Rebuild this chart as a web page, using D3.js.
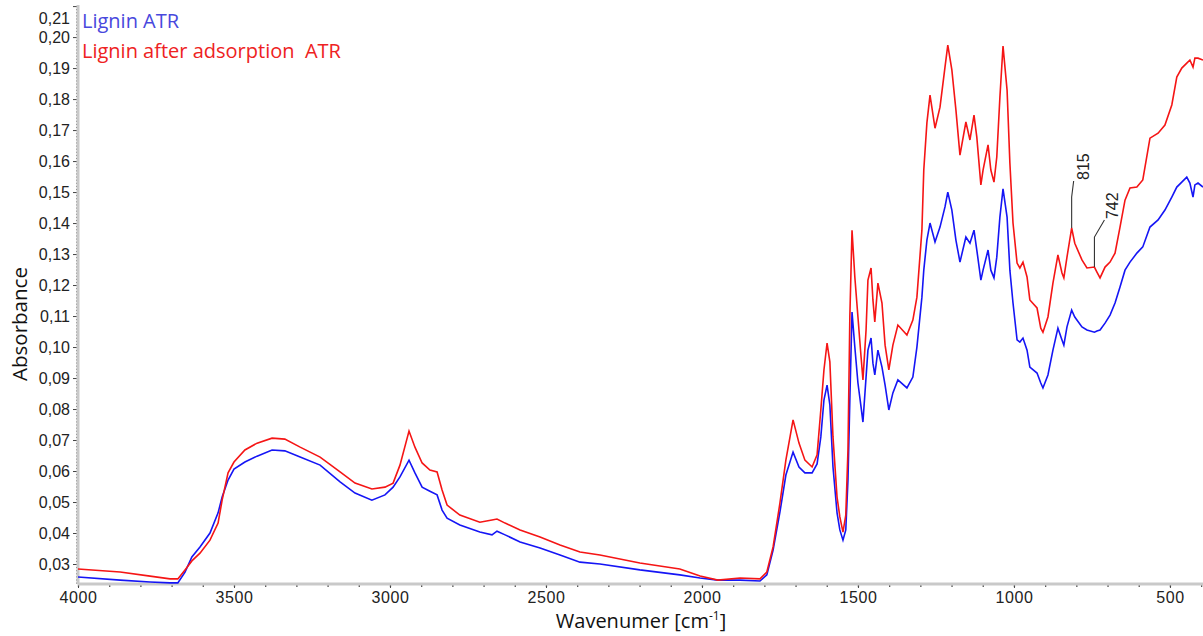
<!DOCTYPE html>
<html>
<head>
<meta charset="utf-8">
<script src="https://cdn.jsdelivr.net/npm/d3@7/dist/d3.min.js"></script>
<style>
  body { margin: 0; background: #fff; }
  svg { display: block; }
</style>
</head>
<body>
<div id="chart"></div>
<script>
// wavenumbers (cm-1) shared by both spectra
const wavenumbers = [4000, 3865, 3769, 3705, 3680, 3657, 3635, 3609, 3577, 3551, 3538, 3519, 3500, 3465, 3426, 3378, 3337, 3288, 3224, 3160, 3112, 3058, 3016, 2990, 2968, 2939, 2920, 2897, 2872, 2849, 2833, 2817, 2776, 2712, 2673, 2657, 2631, 2583, 2519, 2455, 2391, 2327, 2199, 2071, 2006, 1949, 1878, 1814, 1792, 1772, 1750, 1731, 1708, 1689, 1670, 1647, 1631, 1619, 1609, 1599, 1590, 1580, 1567, 1558, 1548, 1539, 1532, 1526, 1519, 1510, 1500, 1490, 1484, 1474, 1468, 1458, 1452, 1446, 1436, 1423, 1413, 1401, 1388, 1372, 1343, 1324, 1311, 1295, 1289, 1279, 1269, 1253, 1237, 1221, 1212, 1199, 1186, 1173, 1154, 1141, 1128, 1119, 1106, 1099, 1083, 1074, 1064, 1055, 1045, 1035, 1022, 1013, 1003, 990, 981, 971, 958, 949, 926, 914, 907, 891, 875, 859, 846, 840, 830, 815, 805, 782, 766, 742, 734, 724, 708, 692, 676, 660, 644, 628, 606, 587, 564, 538, 516, 494, 478, 462, 446, 436, 426, 420, 410, 394];

// "Lignin ATR"
const ligninAtr = [0.0258, 0.0248, 0.0242, 0.0239, 0.0239, 0.0274, 0.0323, 0.0355, 0.0400, 0.0465, 0.0516, 0.0571, 0.0606, 0.0629, 0.0648, 0.0668, 0.0665, 0.0645, 0.0619, 0.0565, 0.0529, 0.0506, 0.0523, 0.0548, 0.0581, 0.0635, 0.0594, 0.0548, 0.0535, 0.0523, 0.0474, 0.0448, 0.0426, 0.0403, 0.0394, 0.0406, 0.0394, 0.0371, 0.0352, 0.0329, 0.0306, 0.0300, 0.0281, 0.0265, 0.0255, 0.0248, 0.0248, 0.0245, 0.0265, 0.0345, 0.0468, 0.0587, 0.0661, 0.0613, 0.0594, 0.0594, 0.0623, 0.0710, 0.0829, 0.0877, 0.0813, 0.0613, 0.0465, 0.0410, 0.0377, 0.0410, 0.0571, 0.0829, 0.1113, 0.1000, 0.0884, 0.0806, 0.0758, 0.0903, 0.0990, 0.1029, 0.0948, 0.0910, 0.0990, 0.0935, 0.0877, 0.0797, 0.0852, 0.0894, 0.0868, 0.0903, 0.1000, 0.1161, 0.1248, 0.1345, 0.1400, 0.1339, 0.1387, 0.1452, 0.1500, 0.1442, 0.1345, 0.1274, 0.1355, 0.1335, 0.1377, 0.1313, 0.1216, 0.1248, 0.1313, 0.1248, 0.1223, 0.1290, 0.1419, 0.1510, 0.1419, 0.1248, 0.1142, 0.1023, 0.1016, 0.1029, 0.0990, 0.0935, 0.0916, 0.0884, 0.0868, 0.0910, 0.0990, 0.1061, 0.1023, 0.1006, 0.1065, 0.1119, 0.1097, 0.1065, 0.1055, 0.1048, 0.1052, 0.1055, 0.1077, 0.1103, 0.1142, 0.1194, 0.1248, 0.1274, 0.1303, 0.1323, 0.1387, 0.1410, 0.1442, 0.1484, 0.1516, 0.1532, 0.1548, 0.1529, 0.1484, 0.1523, 0.1529, 0.1516];

// "Lignin after adsorption ATR"
const ligninAfter = [0.0284, 0.0274, 0.0261, 0.0252, 0.0252, 0.0281, 0.0310, 0.0335, 0.0377, 0.0432, 0.0506, 0.0594, 0.0629, 0.0668, 0.0690, 0.0706, 0.0703, 0.0677, 0.0645, 0.0597, 0.0561, 0.0542, 0.0548, 0.0561, 0.0619, 0.0729, 0.0677, 0.0626, 0.0603, 0.0597, 0.0539, 0.0490, 0.0458, 0.0435, 0.0442, 0.0445, 0.0432, 0.0410, 0.0387, 0.0361, 0.0339, 0.0329, 0.0303, 0.0284, 0.0261, 0.0248, 0.0255, 0.0252, 0.0274, 0.0355, 0.0497, 0.0635, 0.0765, 0.0690, 0.0635, 0.0613, 0.0652, 0.0797, 0.0926, 0.1013, 0.0952, 0.0710, 0.0516, 0.0452, 0.0403, 0.0458, 0.0668, 0.1097, 0.1377, 0.1226, 0.1097, 0.0968, 0.0894, 0.1055, 0.1216, 0.1255, 0.1152, 0.1081, 0.1206, 0.1142, 0.1006, 0.0926, 0.1006, 0.1071, 0.1039, 0.1087, 0.1161, 0.1377, 0.1571, 0.1723, 0.1813, 0.1706, 0.1774, 0.1903, 0.1974, 0.1894, 0.1765, 0.1619, 0.1726, 0.1668, 0.1748, 0.1677, 0.1523, 0.1571, 0.1652, 0.1571, 0.1532, 0.1613, 0.1806, 0.1971, 0.1829, 0.1594, 0.1400, 0.1271, 0.1255, 0.1274, 0.1226, 0.1152, 0.1126, 0.1061, 0.1048, 0.1097, 0.1206, 0.1297, 0.1239, 0.1223, 0.1290, 0.1384, 0.1335, 0.1281, 0.1255, 0.1258, 0.1242, 0.1223, 0.1258, 0.1274, 0.1303, 0.1387, 0.1474, 0.1513, 0.1516, 0.1539, 0.1674, 0.1690, 0.1716, 0.1781, 0.1871, 0.1900, 0.1916, 0.1926, 0.1903, 0.1932, 0.1932, 0.1926];

const seriesNames = ["Lignin ATR", "Lignin after adsorption  ATR"];
const xTicks = [4000, 3500, 3000, 2500, 2000, 1500, 1000, 500];
const yTicks = [0.03, 0.04, 0.05, 0.06, 0.07, 0.08, 0.09, 0.10, 0.11, 0.12, 0.13, 0.14, 0.15, 0.16, 0.17, 0.18, 0.19, 0.20, 0.21];
const peakLabels = [815, 742];

const width = 1203, height = 636;
const margin = { top: 5, left: 78, bottom: 52, right: 0 };

const svg = d3.select("#chart").append("svg")
    .attr("width", width)
    .attr("height", height);

const x = d3.scaleLinear()
    .domain([4000, 394])
    .range([margin.left, width - margin.right]);

const y = d3.scaleLinear()
    .domain([0.02355, 0.21035])
    .range([height - margin.bottom, margin.top]);

const comma = d3.formatLocale({ decimal: ",", thousands: ".", grouping: [3], currency: ["", ""] }).format(".2f");

// minor ticks
const yMinor = d3.range(24, 211).map(d => d / 1000);
const xMinor = d3.range(4000, 390, -100);

svg.append("g")
    .attr("transform", `translate(${margin.left},0)`)
    .call(d3.axisLeft(y).tickValues(yMinor).tickSize(2).tickFormat(""))
    .call(g => g.select(".domain").remove())
    .selectAll("line").attr("stroke", "#555").attr("stroke-width", 1);

svg.append("g")
    .attr("transform", `translate(0,${height - margin.bottom})`)
    .call(d3.axisBottom(x).tickValues(xMinor).tickSize(3).tickFormat(""))
    .call(g => g.select(".domain").remove())
    .selectAll("line").attr("stroke", "#555").attr("stroke-width", 1.3);

// y axis
const yAxis = svg.append("g")
    .attr("transform", `translate(${margin.left},0)`)
    .call(d3.axisLeft(y).tickValues(yTicks).tickSize(5).tickPadding(3).tickFormat(comma));
yAxis.select(".domain").remove();
yAxis.selectAll("line").attr("stroke", "#444");
yAxis.selectAll("text")
    .attr("font-family", "Liberation Sans, Arial, sans-serif")
    .attr("font-size", 16)
    .attr("fill", "#222")
    .attr("dy", d => y(d) < 12 ? "1.1em" : "0.35em");

// x axis
const xAxis = svg.append("g")
    .attr("transform", `translate(0,${height - margin.bottom})`)
    .call(d3.axisBottom(x).tickValues(xTicks).tickSize(4).tickPadding(4).tickFormat(d3.format("d")));
xAxis.select(".domain").remove();
xAxis.selectAll("line").attr("stroke", "#444");
xAxis.selectAll("text")
    .attr("font-family", "Liberation Sans, Arial, sans-serif")
    .attr("font-size", 16)
    .attr("letter-spacing", 0.6)
    .attr("fill", "#222");

// grey axis bars
svg.append("line")
    .attr("x1", margin.left).attr("x2", margin.left)
    .attr("y1", margin.top).attr("y2", height - margin.bottom)
    .attr("stroke", "#c9c9c9").attr("stroke-width", 3);
svg.append("line")
    .attr("x1", margin.left).attr("x2", width)
    .attr("y1", height - margin.bottom).attr("y2", height - margin.bottom)
    .attr("stroke", "#c9c9c9").attr("stroke-width", 3);

// spectra
const line = d3.line()
    .x((d, i) => x(wavenumbers[i]))
    .y(d => y(d));

svg.append("path")
    .datum(ligninAtr)
    .attr("fill", "none")
    .attr("stroke", "#1515f5")
    .attr("stroke-width", 1.6)
    .attr("d", line);

svg.append("path")
    .datum(ligninAfter)
    .attr("fill", "none")
    .attr("stroke", "#f51515")
    .attr("stroke-width", 1.6)
    .attr("d", line);

// peak annotations on the red curve
const leader = { 815: { up: 31, dx: 2, dy: 16, tx: 17, ty: 1 }, 742: { up: 30, dx: 10, dy: 17, tx: 24, ty: 1 } };
peakLabels.forEach(p => {
    const i = wavenumbers.indexOf(p);
    const px = x(p), py = y(ligninAfter[i]);
    const L = leader[p];
    svg.append("path")
        .attr("d", `M${px},${py}V${py - L.up}L${px + L.dx},${py - L.up - L.dy}`)
        .attr("fill", "none")
        .attr("stroke", "#333")
        .attr("stroke-width", 1.1);
    svg.append("text")
        .attr("transform", `translate(${px + L.tx},${py - L.up - L.dy - L.ty}) rotate(-90)`)
        .attr("font-family", "Liberation Sans, Arial, sans-serif")
        .attr("font-size", 16)
        .attr("fill", "#222")
        .text(p);
});

// legend
const legendColors = ["#4848dd", "#ee2222"];
svg.selectAll(".legend")
    .data(seriesNames)
    .enter().append("text")
    .attr("class", "legend")
    .attr("x", margin.left + 4)
    .attr("y", (d, i) => 28 + i * 30)
    .attr("font-family", "Open Sans, sans-serif")
    .attr("font-size", 20)
    .attr("fill", (d, i) => legendColors[i])
    .style("white-space", "pre")
    .text(d => d);

// axis titles
const xt = svg.append("text")
    .attr("x", 641)
    .attr("y", 628)
    .attr("text-anchor", "middle")
    .attr("font-family", "Open Sans, sans-serif")
    .attr("font-size", 20)
    .attr("fill", "#111");
xt.append("tspan").text("Wavenumer [cm");
xt.append("tspan").attr("font-size", 12).attr("dy", -8).text("-1");
xt.append("tspan").attr("dy", 8).text("]");

svg.append("text")
    .attr("transform", "translate(27,324) rotate(-90)")
    .attr("text-anchor", "middle")
    .attr("font-family", "Open Sans, sans-serif")
    .attr("font-size", 20.5)
    .attr("fill", "#111")
    .text("Absorbance");
</script>
</body>
</html>
